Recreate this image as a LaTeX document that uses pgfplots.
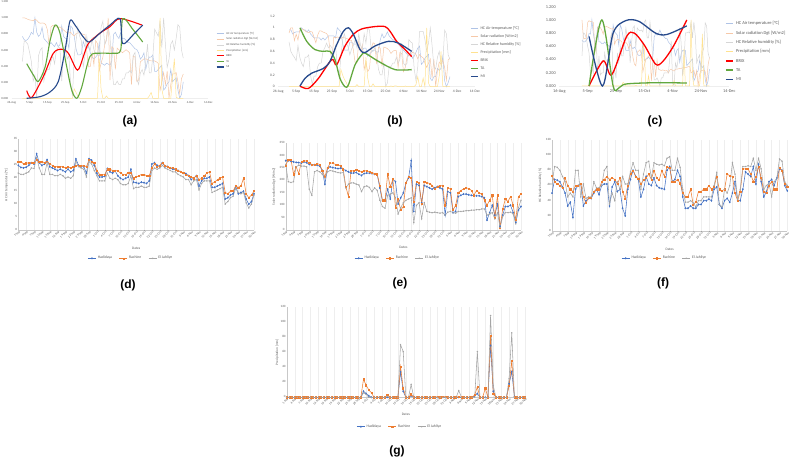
\documentclass[border=0pt]{standalone}
\usepackage{fontspec}
\setmainfont{Carlito}
\newfontfamily\arialfont{Liberation Sans}
\usepackage{pgfplots}
\usepackage{pgfplotstable}
\pgfplotsset{compat=1.18}

\definecolor{cB}{HTML}{4472C4}
\definecolor{cO}{HTML}{ED7D31}
\definecolor{cG}{HTML}{A5A5A5}
\definecolor{bgT}{HTML}{AFC3E6}
\definecolor{bgS}{HTML}{F6C8A8}
\definecolor{bgH}{HTML}{D6D6D6}
\definecolor{bgP}{HTML}{FFE290}
\definecolor{brix}{HTML}{FF0000}
\definecolor{ta}{HTML}{62A83E}
\definecolor{mi}{HTML}{274A8C}
\definecolor{tick}{HTML}{595959}
\definecolor{axgray}{HTML}{C8C8C8}
\definecolor{gridgray}{HTML}{EEEEEE}

% Air temperature [degC]: Hadidaya, Rachine, El Jahliye
\pgfplotstableread{
i H R E
0 25.0 26.5 22.0
1 24.2 26.5 21.5
2 24.0 25.5 21.5
3 24.3 25.8 22.0
4 25.0 26.0 22.5
5 26.0 26.0 24.0
6 25.5 26.0 23.8
7 29.5 27.0 28.0
8 26.0 26.5 24.0
9 25.0 26.5 21.5
10 25.5 26.0 21.5
11 27.2 26.5 26.0
12 24.5 25.5 21.5
13 24.0 25.0 21.5
14 23.5 24.5 21.0
15 23.0 24.5 21.0
16 23.5 24.5 21.5
17 23.0 24.5 21.0
18 22.5 24.0 20.0
19 23.5 24.5 20.5
20 22.5 24.0 20.0
21 23.0 24.5 21.0
22 27.5 25.0 26.5
23 25.0 25.0 24.5
24 24.5 25.0 24.0
25 24.5 25.0 23.5
26 22.0 24.5 20.5
27 27.5 27.0 26.5
28 27.0 26.5 25.5
29 25.0 26.0 23.0
30 22.0 23.0 21.0
31 20.5 21.5 19.0
32 20.5 21.5 19.0
33 20.8 21.5 19.0
34 23.8 23.5 22.0
35 22.5 23.5 20.0
36 22.0 23.0 19.5
37 22.8 23.0 20.0
38 21.0 23.0 19.5
39 20.0 22.0 18.0
40 19.5 21.5 17.5
41 20.0 21.5 17.5
42 20.5 22.0 18.0
43 23.5 22.0 21.0
44 18.5 20.0 16.0
45 18.3 20.5 16.5
46 18.0 21.0 16.5
47 18.5 21.5 17.0
48 18.3 21.5 16.5
49 18.0 21.0 16.5
50 19.0 21.0 17.0
51 25.5 24.0 23.0
52 26.0 25.5 24.0
53 25.0 24.5 23.5
54 24.5 25.0 24.0
55 26.0 26.0 25.0
56 24.5 25.0 24.0
57 24.5 24.5 23.5
58 24.0 24.0 23.0
59 23.5 24.0 22.5
60 23.5 23.5 22.5
61 23.0 23.0 21.5
62 22.5 22.5 21.0
63 22.0 22.0 20.5
64 21.8 21.5 19.5
65 21.0 21.0 19.5
66 19.5 20.5 17.5
67 20.0 20.0 19.0
68 21.0 21.0 19.5
69 17.0 19.5 15.5
70 19.0 20.0 18.0
71 20.0 21.0 19.0
72 20.0 22.0 19.0
73 20.5 22.5 19.0
74 16.5 18.0 14.5
75 16.5 18.5 15.0
76 17.0 19.5 15.5
77 17.5 20.0 16.0
78 18.0 20.5 16.5
79 12.0 14.5 10.0
80 12.5 14.0 11.0
81 13.5 15.0 12.5
82 14.0 15.0 13.0
83 17.0 17.0 16.0
84 14.0 16.5 14.5
85 14.5 17.0 14.0
86 15.0 20.0 14.5
87 12.0 14.0 10.5
88 10.0 12.5 8.5
89 11.0 13.5 10.0
90 14.0 15.0 13.5
}\tabT

% Solar radiation [W/m2]
\pgfplotstableread{
i H R E
0 280 260 265
1 280 285 195
2 278 285 192
3 275 225 195
4 273 255 255
5 272 228 262
6 270 275 258
7 275 280 258
8 272 278 255
9 265 270 165
10 262 265 140
11 263 262 235
12 262 268 240
13 258 265 235
14 240 240 225
15 185 215 210
16 250 250 235
17 255 270 240
18 252 270 238
19 250 265 235
20 248 262 232
21 250 258 230
22 245 245 232
23 240 175 170
24 235 135 185
25 230 240 190
26 230 238 190
27 232 242 185
28 225 240 182
29 220 235 155
30 228 240 175
31 230 238 178
32 230 236 172
33 228 232 155
34 225 228 170
35 225 225 160
36 170 180 120
37 118 120 95
38 120 120 88
39 165 225 140
40 125 175 145
41 205 205 150
42 195 90 130
43 105 125 65
44 130 80 90
45 150 95 110
46 190 190 120
47 210 215 125
48 280 210 130
49 75 115 30
50 185 195 100
51 180 190 110
52 110 105 45
53 180 195 110
54 175 192 75
55 170 188 72
56 165 180 70
57 170 165 72
58 175 175 70
59 170 180 68
60 165 178 70
61 60 100 60
62 155 170 72
63 150 165 75
64 70 80 70
65 75 100 68
66 135 150 75
67 140 160 75
68 145 165 76
69 145 170 78
70 142 168 78
71 140 160 80
72 138 140 80
73 138 160 82
74 138 150 82
75 135 145 85
76 130 120 85
77 40 100 60
78 70 120 65
79 100 140 70
80 60 50 45
81 105 140 70
82 15 10 10
83 60 85 55
84 95 125 70
85 95 115 70
86 100 135 72
87 70 100 65
88 30 40 25
89 80 135 90
90 95 145 120
}\tabS

% Relative humidity [%]
\pgfplotstableread{
i H R E
0 50 73 62
1 68 65 85
2 67 62 84
3 65 60 80
4 58 57 72
5 50 70 65
6 33 60 45
7 38 55 50
8 18 52 45
9 55 60 80
10 60 60 80
11 62 62 45
12 33 45 62
13 40 37 43
14 43 44 45
15 43 44 45
16 50 52 65
17 55 55 57
18 48 55 57
19 60 65 60
20 62 68 80
21 62 72 85
22 33 68 35
23 58 70 50
24 65 68 40
25 52 62 65
26 55 70 55
27 30 52 72
28 20 43 62
29 55 60 62
30 68 75 78
31 80 80 90
32 72 72 80
33 68 69 80
34 45 62 55
35 55 67 75
36 72 70 90
37 62 75 92
38 60 68 70
39 70 80 90
40 60 70 88
41 57 67 87
42 56 80 88
43 55 72 86
44 80 85 96
45 85 83 98
46 65 65 80
47 68 65 80
48 80 68 96
49 72 63 84
50 45 50 55
51 30 45 38
52 30 45 38
53 33 55 40
54 30 35 37
55 30 38 32
56 35 52 40
57 35 52 40
58 40 55 45
59 40 55 45
60 42 60 45
61 40 55 45
62 55 58 60
63 58 72 77
64 35 55 35
65 30 53 32
66 40 55 55
67 43 75 50
68 38 73 60
69 50 72 90
70 65 50 75
71 40 40 42
72 40 52 55
73 55 82 85
74 78 82 85
75 75 82 86
76 72 75 85
77 85 65 96
78 62 72 80
79 88 85 96
80 65 70 82
81 45 52 55
82 52 50 60
83 65 60 63
84 68 65 45
85 60 55 65
86 70 55 70
87 82 83 95
88 80 80 92
89 60 62 65
90 53 58 60
}\tabH

% Precipitation [mm]
\pgfplotstableread{
i H R E
0 0 0 0
1 0 0 0
2 0 0 0
3 0 0 0
4 0 0 0
5 0 0 0
6 0 0 0
7 0 0 0
8 0 0 0
9 0 0 0
10 0 0 0
11 0 0 0
12 0 0 0
13 0 0 0
14 0 0 0
15 0 0 0
16 0 0 0
17 0 0 0
18 0 0 0
19 0 0 0
20 0 0 0
21 0 0 0
22 0 0 0
23 0 0 0
24 0 0 0
25 0 0 0
26 0 0 0
27 0 0 0
28 0 0 0
29 8 24 6
30 5 16 4
31 2 10 0
32 0 6 0
33 0 0 0
34 0 0 0
35 0 0 0
36 0 0 0
37 0 0 0
38 0 3 1
39 0 0 0
40 0 0 0
41 0 0 0
42 0 0 0
43 34 41 70
44 8 12 61
45 0 0 0
46 0 0 0
47 2 4 17
48 0 0 0
49 0 0 0
50 0 0 0
51 0 0 0
52 0 0 0
53 0 0 0
54 0 0 0
55 0 0 0
56 0 0 0
57 0 1 0
58 0 0 0
59 0 1 0
60 0 1 0
61 0 0 0
62 0 0 0
63 0 0 0
64 0 0 0
65 0 1 9
66 0 0 0
67 0 0 0
68 0 0 0
69 0 0 0
70 0 0 0
71 2 3 0
72 5 14 61
73 0 0 0
74 0 0 0
75 0 12 0
76 0 0 0
77 69 82 109
78 8 5 16
79 0 0 0
80 0 0 0
81 0 0 0
82 0 0 0
83 0 0 0
84 18 15 25
85 34 49 86
86 1 0 0
87 0 0 0
88 0 0 0
89 0 0 0
90 0 0 0
}\tabP

\pgfplotsset{
  topstyle/.style={
    scale only axis, anchor=south west, clip=false,
    axis x line*=bottom, axis y line*=left,
    x axis line style={draw=gridgray,-},
    y axis line style={draw=none},
    major tick length=0pt,
    ymin=0, ymax=1.2, ytick={0,0.2,0.4,0.6,0.8,1.0,1.2},
    /pgf/number format/assume math mode=true,
    tick label style={text=tick},
    legend cell align=left,
    legend image code/.code={\draw[##1] (0pt,0pt) -- (7pt,0pt);},
  },
  bg/.style={line width=0.5pt, mark=none},
  fg/.style={line width=1.2pt, mark=none, smooth},
  botstyle/.style={
    scale only axis, anchor=south west,
    axis x line*=bottom, axis y line*=left,
    axis line style={draw=axgray,-},
    major tick length=0pt,
    xmin=0, xmax=90, ymin=0,
    xtick={0,3,...,90},
    xticklabels={1-Sep,4-Sep,7-Sep,10-Sep,13-Sep,16-Sep,19-Sep,22-Sep,25-Sep,28-Sep,1-Oct,4-Oct,7-Oct,10-Oct,13-Oct,16-Oct,19-Oct,22-Oct,25-Oct,28-Oct,31-Oct,3-Nov,6-Nov,9-Nov,12-Nov,15-Nov,18-Nov,21-Nov,24-Nov,27-Nov,30-Nov},
    xmajorgrids, major x grid style={draw=gridgray, line width=0.25pt},
    xticklabel style={rotate=45, anchor=east, inner sep=0.6pt, yshift=-2pt, xshift=0.8pt, font=\fontsize{3.1}{3.4}\selectfont},
    yticklabel style={inner sep=1pt, yshift=0.6pt, font=\fontsize{3.2}{3.6}\selectfont},
    tick label style={text=tick},
    /pgf/number format/assume math mode=true,
    xlabel={Dates},
    xlabel style={at={(axis description cs:0.5,-0.2)}, anchor=center, font=\fontsize{3.5}{4}\selectfont, text=tick},
    ylabel style={at={(axis description cs:-0.05,0.5)}, anchor=center, font=\fontsize{3.4}{4}\selectfont, text=tick},
    legend columns=3,
    legend style={draw=none, fill=none, inner sep=0pt, anchor=center,
      font=\fontsize{3.8}{4.4}\selectfont, text=tick,
      nodes={inner sep=0pt, anchor=west},
      column sep=1.5pt, /tikz/every even column/.append style={column sep=7pt}},
    legend image code/.code={\draw[mark repeat=2,mark phase=2,##1] plot coordinates {(0pt,0pt) (4pt,0pt) (8pt,0pt)};},
    every axis plot/.append style={line width=0.55pt, mark size=0.7pt},
  },
}

\begin{document}
\begin{tikzpicture}
\useasboundingbox (0pt,0pt) rectangle (793pt,459pt);

% ---------------- (a) ----------------
\begin{axis}[topstyle, at={(11.7pt,360.7pt)}, width=196.6pt, height=96.6pt,
  xmin=-6, xmax=104, xtick={-6,4,...,104},
  xticklabels={26-Aug,5-Sep,15-Sep,25-Sep,5-Oct,15-Oct,25-Oct,4-Nov,14-Nov,24-Nov,4-Dec,14-Dec},
  tick label style={font=\fontsize{3}{3.4}\selectfont},
  yticklabel style={/pgf/number format/.cd, fixed, fixed zerofill, precision=3},
  legend style={at={(1.039,0.686)}, anchor=north west, draw=none, fill=none, inner sep=0pt,
    font=\fontsize{2.9}{3.4}\selectfont, text=tick, row sep=2.65pt, column sep=2pt,
    nodes={inner sep=0pt, anchor=west, text height=2.2pt, text depth=0.7pt}},
]
\addplot[bg, bgT] table[x=i, y expr=(\thisrow{H}-10)/19.5]{\tabT};
\addlegendentry{HC Air temperature [°C]}
\addplot[bg, bgS] table[x=i, y expr=(\thisrow{H}-15)/265]{\tabS};
\addlegendentry{Solar radiation Dgt [W/m2]}
\addplot[bg, bgH] table[x=i, y expr=(\thisrow{H}-18)/70]{\tabH};
\addlegendentry{HC Relative humidity [\%]}
\addplot[bg, bgP] table[x=i, y expr=\thisrow{H}/69]{\tabP};
\addlegendentry{Precipitation [mm]}
\addplot[fg, brix, line width=1.1pt] coordinates {(2.4,0.095) (5.2,0.01) (11.7,0.27) (17.3,0.56) (22,0.61) (25.7,0.56) (30.8,0.35) (34.1,0.52) (36.9,0.68) (43.4,0.81) (49,0.89) (54.6,0.99) (66.8,0.91)};
\addlegendentry{BRIX}
\addplot[fg, ta, line width=1.1pt] coordinates {(2.4,0.43) (6.1,0.29) (8.9,0.21) (12.7,0.39) (15.5,0.72) (18.3,0.91) (21,0.81) (24.8,0.39) (27.6,0.10) (30.4,0) (33.2,0.14) (37.8,0.52) (43.4,0.56) (50.9,0.56) (55,0.6) (56.1,0.99) (62,0.85) (67.3,0.70)};
\addlegendentry{TA}
\addplot[fg, mi, line width=1.1pt] coordinates {(2.4,0) (9.9,0.02) (15.5,0.08) (20.1,0.21) (23.9,0.6) (26.6,0.96) (29.4,0.91) (34.1,0.76) (37.5,0.70) (43.4,0.81) (49,0.91) (54.6,0.99) (56.1,0.68) (62,0.79) (67.3,0.91)};
\addlegendentry{MI}
\end{axis}

% ---------------- (b) ----------------
\begin{axis}[topstyle, at={(278.3pt,372.3pt)}, width=196.7pt, height=70.7pt,
  xmin=-6, xmax=104, xtick={-6,4,...,104},
  xticklabels={26-Aug,5-Sep,15-Sep,25-Sep,5-Oct,15-Oct,25-Oct,4-Nov,14-Nov,24-Nov,4-Dec,14-Dec},
  tick label style={font=\fontsize{3.6}{4}\selectfont},
  legend style={at={(0.9746,0.8515)}, anchor=north west, draw=none, fill=none, inner sep=0pt,
    font=\fontsize{4}{4.6}\selectfont, text=tick, row sep=3.95pt, column sep=2pt,
    nodes={inner sep=0pt, anchor=west, text height=3.0pt, text depth=1.0pt}},
]
\addplot[bg, bgT] table[x=i, y expr=(\thisrow{R}-12.5)/14.5]{\tabT};
\addlegendentry{HC Air temperature [°C]}
\addplot[bg, bgS] table[x=i, y expr=(\thisrow{R}-10)/275]{\tabS};
\addlegendentry{Solar radiation [W/m2]}
\addplot[bg, bgH] table[x=i, y expr=(\thisrow{R}-35)/50]{\tabH};
\addlegendentry{HC Relative humidity [\%]}
\addplot[bg, bgP] table[x=i, y expr=\thisrow{R}/82]{\tabP};
\addlegendentry{Precipitation [mm]}
\addplot[fg, brix, line width=1.3pt] coordinates {(6.1,0.01) (10.8,-0.03) (16.4,0.14) (23.9,0.46) (26.6,0.37) (31.3,0.69) (36,0.89) (40.6,0.98) (48,1.02) (53.7,1.02) (56.5,0.94) (60.2,0.77) (64.9,0.63) (68.6,0.51)};
\addlegendentry{BRIX}
\addplot[fg, ta, line width=1.3pt] coordinates {(6.1,1.0) (9.9,0.77) (14.5,0.63) (19.2,0.6) (22.9,0.6) (25.7,0.46) (28.5,0.14) (31.3,0) (33.2,0.03) (36.9,0.37) (40.6,0.54) (42.5,0.57) (50,0.43) (59.3,0.29) (68.6,0.29)};
\addlegendentry{TA}
\addplot[fg, mi, line width=1.3pt] coordinates {(6.1,0.01) (8.9,0.14) (12.7,0.23) (19.2,0.31) (22.9,0.43) (26.6,0.71) (30.4,0.94) (33.2,1.0) (36,0.89) (39.7,0.63) (42.5,0.58) (48,0.69) (55.6,0.77) (61.2,0.74) (68.6,0.6)};
\addlegendentry{MI}
\end{axis}

% ---------------- (c) ----------------
\begin{axis}[topstyle, at={(559.3pt,373pt)}, width=170pt, height=79.3pt,
  xmin=-16, xmax=104, xtick={-16,4,...,104},
  xticklabels={16-Aug,5-Sep,25-Sep,15-Oct,4-Nov,24-Nov,14-Dec},
  tick label style={font=\fontsize{4.3}{4.8}\selectfont},
  yticklabel style={/pgf/number format/.cd, fixed, fixed zerofill, precision=3},
  legend style={at={(0.975,0.816)}, anchor=north west, draw=none, fill=none, inner sep=0pt,
    font=\fontsize{4.5}{5}\selectfont, text=tick, row sep=4.78pt, column sep=2.5pt,
    nodes={inner sep=0pt, anchor=west, text height=3.4pt, text depth=1.1pt}},
]
\addplot[bg, bgT] table[x=i, y expr=(\thisrow{E}-8.5)/19.5]{\tabT};
\addlegendentry{HC Air temperature [°C]}
\addplot[bg, bgS] table[x=i, y expr=(\thisrow{E}-10)/255]{\tabS};
\addlegendentry{Solar radiation Dgt [W/m2]}
\addplot[bg, bgH] table[x=i, y expr=(\thisrow{E}-32)/66]{\tabH};
\addlegendentry{HC Relative humidity [\%]}
\addplot[bg, bgP] table[x=i, y expr=\thisrow{E}/109]{\tabP};
\addlegendentry{Precipitation [mm]}
\addplot[fg, brix, line width=1.3pt] coordinates {(5,0) (15,0.38) (21,0.17) (31.5,0.75) (37,0.8) (44,0.62) (52,0.33) (57,0.37) (64.5,0.6) (74,1.0)};
\addlegendentry{BRIX}
\addplot[fg, ta, line width=1.3pt] coordinates {(5,0) (14,1.0) (22,0) (26,-0.03) (31,0.03) (52,0.05) (74,0.045)};
\addlegendentry{TA}
\addplot[fg, mi, line width=1.3pt] coordinates {(5,0.75) (14.5,0) (22,0.8) (31,0.99) (40,0.98) (52,0.8) (60,0.78) (74,0.91)};
\addlegendentry{MI}
\end{axis}

% ---------------- (d) ----------------
\begin{axis}[botstyle, at={(18.3pt,229pt)}, width=235.7pt, height=90.5pt,
  ymax=35, ytick={0,5,...,35},
  ylabel={HC Air temperature [°C]},
  legend style={at={(0.474,-0.313)}},
]
\addplot[cB, mark=diamond*] table[x=i,y=H]{\tabT};
\addlegendentry{Hadidaya}
\addplot[cO, mark=square*, mark size=0.55pt] table[x=i,y=R]{\tabT};
\addlegendentry{Rachine}
\addplot[cG, mark=x] table[x=i,y=E]{\tabT};
\addlegendentry{El Jahliye}
\end{axis}

% ---------------- (e) ----------------
\begin{axis}[botstyle, at={(285.7pt,229pt)}, width=235.3pt, height=86.7pt,
  ymax=350, ytick={0,50,...,350},
  ylabel={Solar radiation Dgt [W/m2]},
  legend style={at={(0.472,-0.326)}},
]
\addplot[cB, mark=diamond*] table[x=i,y=H]{\tabS};
\addlegendentry{Hadidaya}
\addplot[cO, mark=square*, mark size=0.55pt] table[x=i,y=R]{\tabS};
\addlegendentry{Rachine}
\addplot[cG, mark=x] table[x=i,y=E]{\tabS};
\addlegendentry{El Jahliye}
\end{axis}

% ---------------- (f) ----------------
\begin{axis}[botstyle, at={(552pt,228pt)}, width=235.3pt, height=91pt,
  ymax=120, ytick={0,20,...,120},
  ylabel={HC Relative humidity [\%]},
  legend style={at={(0.475,-0.30)}},
]
\addplot[cB, mark=diamond*] table[x=i,y=H]{\tabH};
\addlegendentry{Hadidaya}
\addplot[cO, mark=square*, mark size=0.55pt] table[x=i,y=R]{\tabH};
\addlegendentry{Rachine}
\addplot[cG, mark=x] table[x=i,y=E]{\tabH};
\addlegendentry{El Jahliye}
\end{axis}

% ---------------- (g) ----------------
\begin{axis}[botstyle, at={(286.7pt,61.7pt)}, width=238.3pt, height=90pt,
  ymax=120, ytick={0,20,...,120},
  ylabel={Precipitation [mm]},
  xlabel style={at={(axis description cs:0.5,-0.189)}},
  ylabel style={at={(axis description cs:-0.04,0.5)}},
  legend style={at={(0.471,-0.327)}},
]
\addplot[cB, mark=diamond*] table[x=i,y=H]{\tabP};
\addlegendentry{Hadidaya}
\addplot[cO, mark=square*, mark size=0.55pt] table[x=i,y=R]{\tabP};
\addlegendentry{Rachine}
\addplot[cG, mark=x] table[x=i,y=E]{\tabP};
\addlegendentry{El Jahliye}
\end{axis}

% panel letters
\begin{scope}[every node/.style={font=\arialfont\bfseries\fontsize{12}{14}\selectfont, text=black}]
\node at (130pt,338pt) {(a)};
\node at (395pt,338pt) {(b)};
\node at (655pt,338pt) {(c)};
\node at (128pt,174pt) {(d)};
\node at (400pt,176pt) {(e)};
\node at (663pt,176pt) {(f)};
\node at (397pt,7.5pt) {(g)};
\end{scope}
\end{tikzpicture}
\end{document}
